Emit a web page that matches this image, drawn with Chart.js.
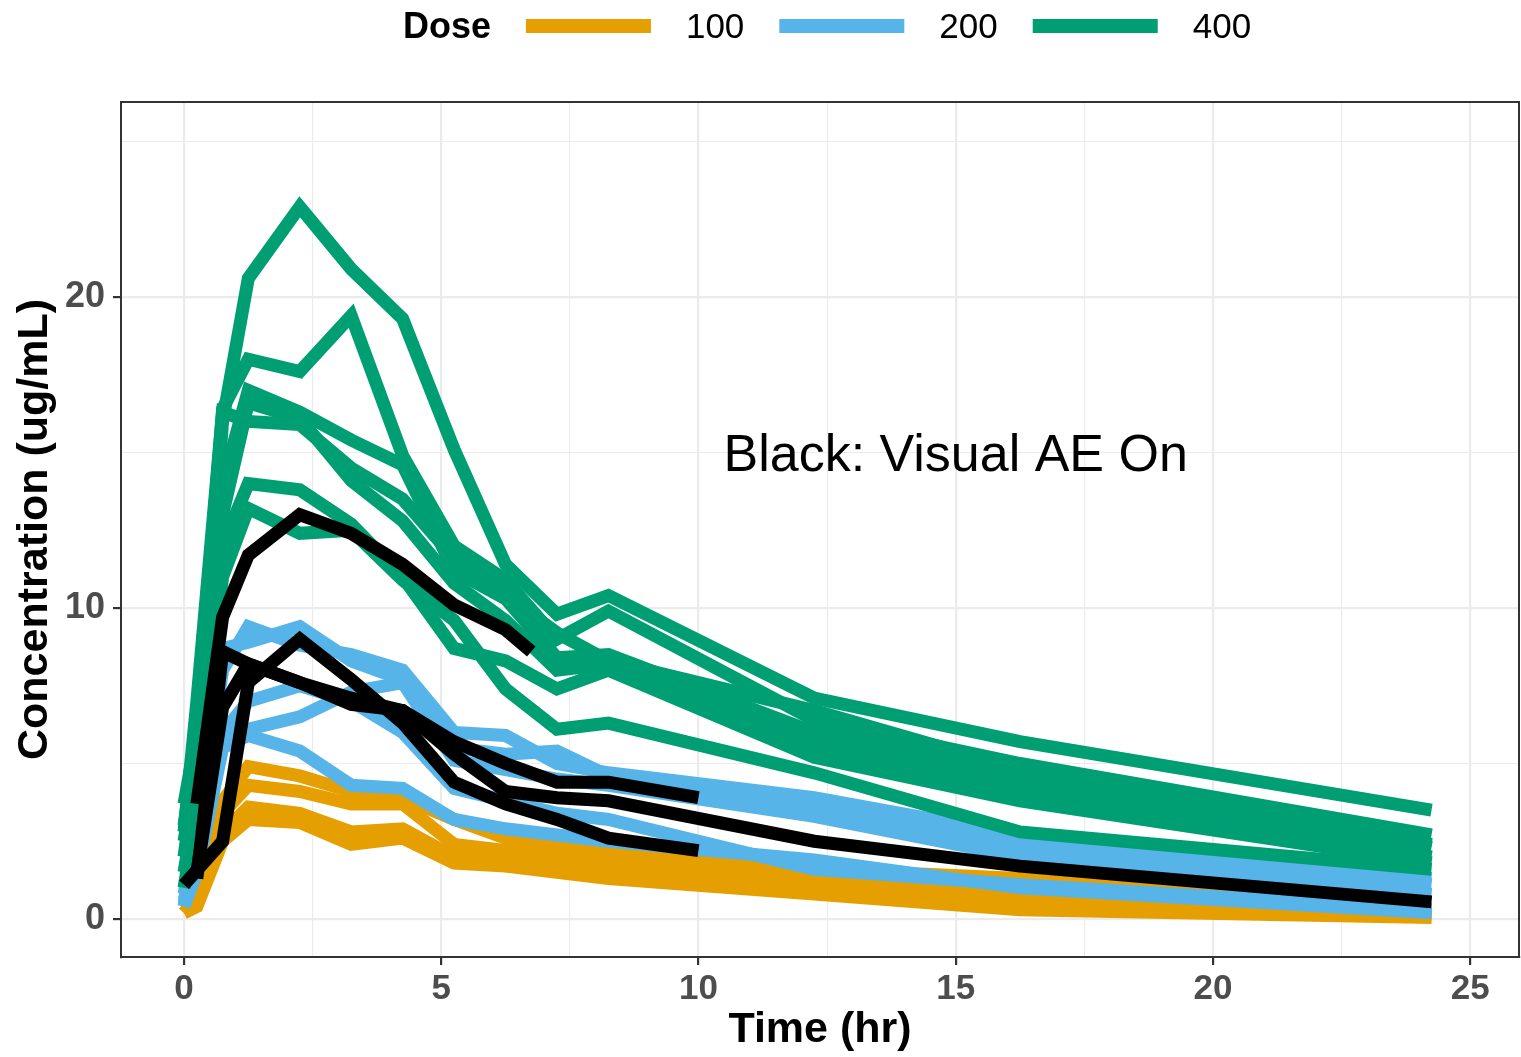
<!DOCTYPE html>
<html><head><meta charset="utf-8">
<script src="https://cdn.jsdelivr.net/npm/chart.js@4.4.1/dist/chart.umd.min.js"></script>
<style>html,body{margin:0;padding:0;background:#fff;}#wrap{width:1521px;height:1057px;}</style>
</head><body><div id="wrap"><canvas id="c" width="1521" height="1057"></canvas></div>
<script>
// ---------- DATA ----------
const times = [0, 0.25, 0.75, 1.25, 2.25, 3.25, 4.25, 5.25, 6.25, 7.25, 8.25, 12.25, 16.25, 24.25];

// Dose 100 mg
const dose100_s1 = [0.2, 0.7, 3.8, 4.9, 4.6, 4.1, 3.9, 3.2, 2.6, 2.4, 2.2, 1.6, 1.3, 0.3];
const dose100_s2 = [0.2, 0.6, 3.4, 4.3, 4.1, 3.7, 3.7, 2.4, 2.2, 2.1, 1.9, 1.2, 0.9, 0.2];
const dose100_s3 = [0.2, 0.5, 2.8, 3.6, 3.4, 2.8, 2.9, 2.0, 1.9, 1.8, 1.6, 1.0, 0.6, 0.1];
const dose100_s4 = [0.2, 0.4, 2.5, 3.2, 3.1, 2.4, 2.6, 1.8, 1.7, 1.5, 1.3, 0.8, 0.3, 0.05];

// Dose 200 mg
const dose200_s1 = [0.4, 2.5, 8.0, 9.4, 8.8, 8.5, 8.0, 6.0, 5.9, 5.0, 4.7, 3.9, 2.7, 1.3];
const dose200_s2 = [0.8, 3.0, 8.7, 8.9, 9.4, 8.3, 7.7, 5.5, 5.3, 5.4, 4.6, 3.6, 2.4, 1.1];
const dose200_s3 = [0.5, 2.0, 5.8, 6.1, 6.5, 7.3, 7.6, 5.1, 4.8, 4.5, 4.3, 3.3, 2.0, 0.8];
const dose200_s4 = [0.4, 1.5, 5.5, 5.9, 5.4, 4.3, 4.2, 3.2, 2.9, 2.7, 2.5, 1.9, 1.0, 0.2];
const dose200_s5 = [0.6, 2.0, 6.0, 7.0, 7.5, 7.0, 6.0, 4.2, 3.8, 3.4, 3.2, 1.6, 1.1, 0.3];

// Dose 400 mg
const dose400_s1 = [2.5, 5.0, 16.0, 20.6, 22.9, 20.9, 19.3, 15.1, 11.4, 9.8, 10.4, 7.1, 5.7, 3.5];
const dose400_s2 = [3.0, 6.0, 16.4, 18.0, 17.6, 19.4, 14.9, 12.0, 10.9, 9.0, 9.9, 6.4, 5.0, 2.7];
const dose400_s3 = [2.0, 5.0, 14.0, 17.0, 16.3, 15.4, 14.6, 11.2, 10.3, 8.4, 8.5, 6.0, 4.6, 2.4];
const dose400_s4 = [1.5, 4.0, 13.0, 16.6, 16.1, 14.1, 12.8, 10.8, 9.6, 8.0, 8.2, 5.6, 4.2, 2.0];
const dose400_s5 = [3.7, 6.0, 12.0, 14.0, 13.8, 12.7, 11.0, 8.7, 8.3, 7.4, 8.0, 5.2, 3.8, 1.8];
const dose400_s6 = [1.0, 3.5, 11.0, 13.2, 12.4, 12.5, 10.9, 9.6, 7.4, 6.1, 6.3, 4.7, 2.8, 1.6];
const dose400_s7 = [2.8, 7.0, 16.3, 16.0, 15.9, 14.5, 13.5, 11.6, 10.4, 9.2, 8.3, 6.7, 4.8, 2.3];

// Visual AE On (black) segments
const ae1_times = [0.25, 0.75, 1.25, 2.25, 3.25, 4.25, 5.25, 6.25, 6.75];
const ae1_conc  = [3.7, 9.7, 11.7, 13.0, 12.4, 11.4, 10.1, 9.3, 8.6];
const ae2_times = [0.25, 0.75, 1.25, 2.25, 3.25, 4.25, 5.25, 6.25, 7.25, 8.25, 10];
const ae2_conc  = [1.3, 8.6, 8.2, 7.6, 6.9, 6.7, 5.7, 5.0, 4.4, 4.4, 3.9];
const ae3_times = [0, 0.75, 1.25, 2.25, 3.25, 4.25, 5.25, 6.25, 7.25, 8.25, 10];
const ae3_conc  = [1.1, 2.5, 7.6, 9.0, 7.7, 6.3, 4.4, 3.7, 3.2, 2.6, 2.2];
const ae4_times = [0.25, 0.75, 1.25, 2.25, 3.25, 4.25, 5.25, 6.25, 7.25, 8.25, 12.25, 16.25, 24.25];
const ae4_conc  = [1.5, 6.8, 8.2, 7.6, 7.1, 6.7, 5.3, 4.1, 3.9, 3.8, 2.5, 1.7, 0.55];

const doseLabels = ['100', '200', '400'];
const doseColors = ['#E69F00', '#56B4E9', '#009E73'];
const aeColor = '#000000';
const legendTitle = 'Dose';
const annotationText = 'Black: Visual AE On';
const annotationAt = [15, 15];

const xTitle = 'Time (hr)';
const yTitle = 'Concentration (ug/mL)';
const xTickLabels = [0, 5, 10, 15, 20, 25];
const xGrid = [0, 2.5, 5, 7.5, 10, 12.5, 15, 17.5, 20, 22.5, 25];
const yTickLabels = [0, 10, 20];
const yGrid = [0, 5, 10, 15, 20, 25];
const xRange = [-1.2247, 25.95];
const yRange = [-1.222, 26.27];

// ---------- BUILD ----------
const FONT = "'Liberation Sans', Arial, Helvetica, sans-serif";
const LW = 13;
function line(ts, cs, color) {
  return {
    data: ts.map((t, i) => ({x: t, y: cs[i]})),
    borderColor: color, backgroundColor: color,
    borderWidth: LW, pointRadius: 0, pointHoverRadius: 0,
    tension: 0, fill: false, borderCapStyle: 'butt', borderJoinStyle: 'miter'
  };
}
const datasets = [];
// black on top (dataset 0 is drawn last)
[[ae1_times, ae1_conc], [ae2_times, ae2_conc], [ae3_times, ae3_conc], [ae4_times, ae4_conc]]
  .forEach(([t, c]) => datasets.push(line(t, c, aeColor)));
[dose400_s1, dose400_s2, dose400_s3, dose400_s4, dose400_s5, dose400_s6, dose400_s7]
  .forEach(c => datasets.push(line(times, c, doseColors[2])));
[dose200_s1, dose200_s2, dose200_s3, dose200_s4, dose200_s5]
  .forEach(c => datasets.push(line(times, c, doseColors[1])));
[dose100_s1, dose100_s2, dose100_s3, dose100_s4]
  .forEach(c => datasets.push(line(times, c, doseColors[0])));

const panelBorder = {
  id: 'panelBorder',
  afterDraw(chart) {
    const {ctx, chartArea: a} = chart;
    ctx.save();
    ctx.strokeStyle = '#333333'; ctx.lineWidth = 2;
    ctx.strokeRect(a.left, a.top, a.right - a.left, a.bottom - a.top);
    ctx.restore();
  }
};
const annotation = {
  id: 'annotation',
  afterDatasetsDraw(chart) {
    const {ctx, scales} = chart;
    ctx.save();
    ctx.font = `52px ${FONT}`;
    ctx.fillStyle = '#000';
    ctx.textAlign = 'center'; ctx.textBaseline = 'middle';
    ctx.fillText(annotationText, scales.x.getPixelForValue(annotationAt[0]), scales.y.getPixelForValue(annotationAt[1]) + 4);
    ctx.restore();
  }
};
const topLegend = {
  id: 'topLegend',
  afterDraw(chart) {
    const ctx = chart.ctx;
    ctx.save();
    const cy = 26, gap = 35, keyW = 125, keyH = 14;
    ctx.font = `bold 36px ${FONT}`;
    const titleW = ctx.measureText(legendTitle).width;
    ctx.font = `35px ${FONT}`;
    const labW = doseLabels.map(l => ctx.measureText(l).width);
    const total = titleW + labW.reduce((s, w) => s + gap + keyW + gap + w, 0);
    let x = 827 - total / 2;
    ctx.textBaseline = 'middle'; ctx.textAlign = 'left'; ctx.fillStyle = '#000';
    ctx.font = `bold 36px ${FONT}`;
    ctx.fillText(legendTitle, x, cy + 2);
    x += titleW;
    ctx.font = `35px ${FONT}`;
    doseLabels.forEach((l, i) => {
      x += gap;
      ctx.fillStyle = doseColors[i];
      ctx.fillRect(x, cy - keyH / 2, keyW, keyH);
      x += keyW + gap;
      ctx.fillStyle = '#000';
      ctx.fillText(l, x, cy + 2);
      x += labW[i];
    });
    ctx.restore();
  }
};

new Chart(document.getElementById('c'), {
  type: 'line',
  data: {datasets},
  options: {
    responsive: false, animation: false, devicePixelRatio: 1,
    layout: {padding: {top: 102, right: 2, left: 0, bottom: 0}},
    plugins: {legend: {display: false}, tooltip: {enabled: false}},
    scales: {
      x: {
        type: 'linear', min: xRange[0], max: xRange[1],
        afterBuildTicks: ax => { ax.ticks = xGrid.map(v => ({value: v})); },
        afterFit: ax => { ax.height = 100; },
        ticks: {
          autoSkip: false, maxRotation: 0, padding: 3, color: '#4D4D4D',
          font: {family: FONT, size: 35, weight: 'bold'},
          callback: v => xTickLabels.includes(v) ? String(v) : ''
        },
        grid: {
          color: '#EBEBEB',
          lineWidth: c => xTickLabels.includes(c.tick && c.tick.value) ? 2.2 : 1.1,
          tickColor: c => xTickLabels.includes(c.tick && c.tick.value) ? '#333333' : 'rgba(0,0,0,0)',
          tickWidth: 2.2, tickLength: 8, drawTicks: true
        },
        border: {display: true, color: '#333333', width: 2},
        title: {display: true, text: xTitle, color: '#000', font: {family: FONT, size: 43, weight: 'bold'}, padding: {top: 0, bottom: 1}}
      },
      y: {
        type: 'linear', min: yRange[0], max: yRange[1],
        afterBuildTicks: ax => { ax.ticks = yGrid.map(v => ({value: v})); },
        afterFit: ax => { ax.width = 121; },
        ticks: {
          autoSkip: false, padding: 8, color: '#4D4D4D',
          font: {family: FONT, size: 36, weight: 'bold'},
          callback: v => yTickLabels.includes(v) ? String(v) : ''
        },
        grid: {
          color: '#EBEBEB',
          lineWidth: c => yTickLabels.includes(c.tick && c.tick.value) ? 2.2 : 1.1,
          tickColor: c => yTickLabels.includes(c.tick && c.tick.value) ? '#333333' : 'rgba(0,0,0,0)',
          tickWidth: 2.2, tickLength: 8, drawTicks: true
        },
        border: {display: true, color: '#333333', width: 2},
        title: {display: true, text: yTitle, color: '#000', font: {family: FONT, size: 43, weight: 'bold'}, padding: {top: 9, bottom: 0}}
      }
    }
  },
  plugins: [annotation, panelBorder, topLegend]
});
</script></body></html>
